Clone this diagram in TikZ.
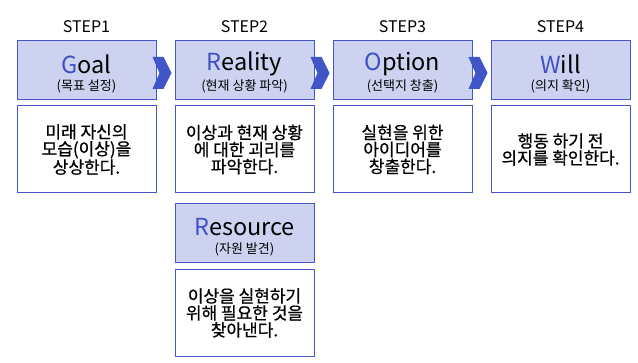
\documentclass[tikz,border=0pt]{standalone}
\usepackage{fontspec}
\setmainfont{Noto Sans CJK KR}
\newfontfamily\semibold[FakeBold=0.7]{Noto Sans CJK KR}
\usepackage{xcolor}
\usepackage{tikz}
\usetikzlibrary{positioning,calc}
\definecolor{headfill}{HTML}{CDD2F0}
\definecolor{headline}{HTML}{4556C8}
\definecolor{initblue}{HTML}{3F51C4}
\definecolor{chevblue}{HTML}{3F55C8}
\newcommand{\bodyfont}{\semibold\fontsize{17}{17}\selectfont}

\begin{document}
\begin{tikzpicture}[
  x=1pt, y=-1pt,
  head/.style={rectangle, draw=headline, fill=headfill, line width=1pt,
               minimum width=139pt, minimum height=59pt, inner sep=0pt},
  desc/.style={rectangle, draw=headline, fill=white, line width=1pt,
               minimum width=139pt, minimum height=87pt, align=center, inner sep=0pt,
               font=\bodyfont},
  ttl/.style={font=\fontsize{23.5}{24}\selectfont, inner sep=0pt},
  sub/.style={font=\fontsize{13}{14}\selectfont, inner sep=0pt},
  steplbl/.style={font=\fontsize{16}{17}\selectfont, inner sep=0pt},
  chev/.style={fill=chevblue, draw=none},
]
\useasboundingbox (0,0) rectangle (638,363);

% --- Step labels ---
\node[steplbl] (s1) at (86.5,27) {STEP1};
\node[steplbl] (s2) at (244.5,27) {STEP2};
\node[steplbl] (s3) at (402.5,27) {STEP3};
\node[steplbl] (s4) at (560.5,27) {STEP4};

% --- Header boxes ---
\node[head] (goal) at (86.5,70.5) {};
\node[head] (real) at (244.5,70.5) {};
\node[head] (opt)  at (402.5,70.5) {};
\node[head] (will) at (560.5,70.5) {};
\node[head] (res)  at (244.5,233.5) {};

% --- Titles and subtitles ---
\node[ttl] (goalt) at ($(goal.center)+(0,-6.5)$) {\textcolor{initblue}{G}oal};
\node[sub] (goals) at ($(goal.center)+(0,15.5)$) {(목표 설정)};
\node[ttl] (realt) at ($(real.center)+(0,-6.5)$) {\textcolor{initblue}{R}eality};
\node[sub] (reals) at ($(real.center)+(0,15.5)$) {(현재 상황 파악)};
\node[ttl] (optt)  at ($(opt.center)+(0,-6.5)$) {\textcolor{initblue}{O}ption};
\node[sub] (opts)  at ($(opt.center)+(0,15.5)$) {(선택지 창출)};
\node[ttl] (willt) at ($(will.center)+(0,-6.5)$) {\textcolor{initblue}{W}ill};
\node[sub] (wills) at ($(will.center)+(0,15.5)$) {(의지 확인)};
\node[ttl] (rest)  at ($(res.center)+(0,-6.5)$) {\textcolor{initblue}{R}esource};
\node[sub] (ress)  at ($(res.center)+(0,15.5)$) {(자원 발견)};

% --- Description boxes ---
\node[desc] (goald) at (86.5,149.5) {미래 자신의\\모습(이상)을\\상상한다.};
\node[desc] (reald) at (244.5,149.5) {이상과 현재 상황\\에 대한 괴리를\\파악한다.};
\node[desc] (optd)  at (402.5,149.5) {실현을 위한\\아이디어를\\창출한다.};
\node[desc] (willd) at (560.5,149.5) {행동 하기 전\\의지를 확인한다.};
\node[desc] (resd)  at (244.5,313) {이상을 실현하기\\위해 필요한 것을\\찾아낸다.};

% --- Chevrons between steps ---
\foreach \a in {goal,real,opt}{
  \fill[chev] ($(\a.east)+(-4,-13.5)$) -- ++(11,0) -- ++(8,16) -- ++(-8,16)
    -- ++(-11,0) -- ++(7,-16) -- cycle;
}
\end{tikzpicture}
\end{document}
